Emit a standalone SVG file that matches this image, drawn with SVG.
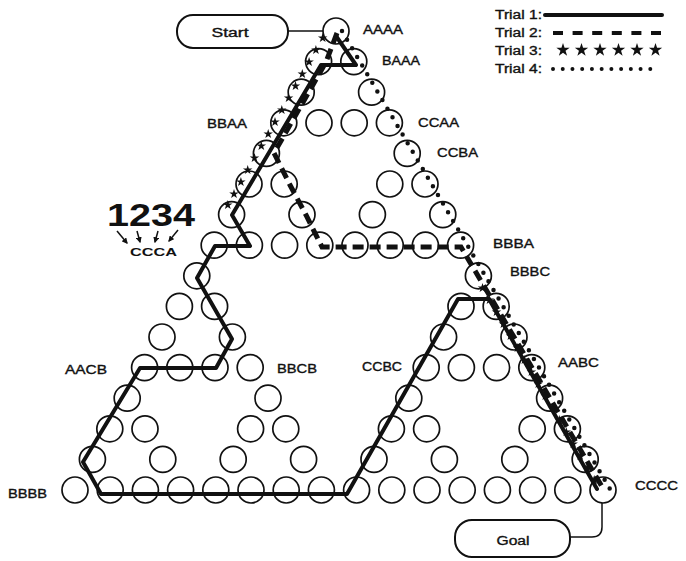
<svg xmlns="http://www.w3.org/2000/svg" width="686" height="561" viewBox="0 0 686 561">
<style>
.n{fill:none;stroke:#111;stroke-width:1.7}
.lbl{font-family:"Liberation Sans",Arial,sans-serif;font-size:12px;fill:#111;stroke:#111;stroke-width:0.35}
.big{font-family:"Liberation Sans",Arial,sans-serif;font-weight:bold;fill:#111}
.t1{fill:none;stroke:#111;stroke-width:4;stroke-linejoin:round;stroke-linecap:round}
.t2{fill:none;stroke:#111;stroke-width:5;stroke-dasharray:11 6}
.t4{fill:none;stroke:#111;stroke-width:4.5;stroke-dasharray:0 10;stroke-linecap:round}
.st{fill:#111}
.box{fill:#fff;stroke:#111;stroke-width:2}
.wire{fill:none;stroke:#111;stroke-width:1.5}
.arr{fill:none;stroke:#111;stroke-width:1.5;marker-end:url(#ah)}
</style>
<defs>
<path id="star" d="M0,-10 L2.25,-3.09 L9.51,-3.09 L3.63,1.18 L5.88,8.09 L0,3.82 L-5.88,8.09 L-3.63,1.18 L-9.51,-3.09 L-2.25,-3.09Z"/>
<marker id="ah" viewBox="0 0 10 10" refX="8" refY="5" markerWidth="4" markerHeight="4" orient="auto"><path d="M0,0 L10,5 L0,10z" fill="#111"/></marker>
</defs>

<g id="nodes">
<g id="AAAA"><circle class="n" cx="336" cy="31" r="13"/><text class="lbl" x="363" y="34" textLength="40" lengthAdjust="spacingAndGlyphs">AAAA</text></g>
<g id="n-1-0"><circle class="n" cx="318.6" cy="61.6" r="13"/></g>
<g id="BAAA"><circle class="n" cx="353.8" cy="61.6" r="13"/><text class="lbl" x="382" y="65" textLength="38" lengthAdjust="spacingAndGlyphs">BAAA</text></g>
<g id="n-2-0"><circle class="n" cx="301.2" cy="92.2" r="13"/></g>
<g id="n-2-2"><circle class="n" cx="371.6" cy="92.2" r="13"/></g>
<g id="BBAA"><circle class="n" cx="283.8" cy="122.8" r="13"/><text class="lbl" x="207" y="128" textLength="40" lengthAdjust="spacingAndGlyphs">BBAA</text></g>
<g id="n-3-1"><circle class="n" cx="319" cy="122.8" r="13"/></g>
<g id="n-3-2"><circle class="n" cx="354.2" cy="122.8" r="13"/></g>
<g id="CCAA"><circle class="n" cx="389.4" cy="122.8" r="13"/><text class="lbl" x="418" y="127" textLength="41" lengthAdjust="spacingAndGlyphs">CCAA</text></g>
<g id="n-4-0"><circle class="n" cx="266.4" cy="153.4" r="13"/></g>
<g id="CCBA"><circle class="n" cx="407.2" cy="153.4" r="13"/><text class="lbl" x="437" y="157" textLength="41" lengthAdjust="spacingAndGlyphs">CCBA</text></g>
<g id="n-5-0"><circle class="n" cx="249" cy="184" r="13"/></g>
<g id="n-5-1"><circle class="n" cx="284.2" cy="184" r="13"/></g>
<g id="n-5-4"><circle class="n" cx="389.8" cy="184" r="13"/></g>
<g id="n-5-5"><circle class="n" cx="425" cy="184" r="13"/></g>
<g id="n-6-0"><circle class="n" cx="231.6" cy="214.6" r="13"/></g>
<g id="n-6-2"><circle class="n" cx="302" cy="214.6" r="13"/></g>
<g id="n-6-4"><circle class="n" cx="372.4" cy="214.6" r="13"/></g>
<g id="n-6-6"><circle class="n" cx="442.8" cy="214.6" r="13"/></g>
<g id="CCCA"><circle class="n" cx="214.2" cy="245.2" r="13"/></g>
<g id="n-7-1"><circle class="n" cx="249.4" cy="245.2" r="13"/></g>
<g id="n-7-2"><circle class="n" cx="284.6" cy="245.2" r="13"/></g>
<g id="n-7-3"><circle class="n" cx="319.8" cy="245.2" r="13"/></g>
<g id="n-7-4"><circle class="n" cx="355" cy="245.2" r="13"/></g>
<g id="n-7-5"><circle class="n" cx="390.2" cy="245.2" r="13"/></g>
<g id="n-7-6"><circle class="n" cx="425.4" cy="245.2" r="13"/></g>
<g id="BBBA"><circle class="n" cx="460.6" cy="245.2" r="13"/><text class="lbl" x="493" y="248" textLength="41" lengthAdjust="spacingAndGlyphs">BBBA</text></g>
<g id="n-8-0"><circle class="n" cx="196.8" cy="275.8" r="13"/></g>
<g id="BBBC"><circle class="n" cx="478.4" cy="275.8" r="13"/><text class="lbl" x="510" y="276" textLength="40" lengthAdjust="spacingAndGlyphs">BBBC</text></g>
<g id="n-9-0"><circle class="n" cx="179.4" cy="306.4" r="13"/></g>
<g id="n-9-1"><circle class="n" cx="214.6" cy="306.4" r="13"/></g>
<g id="n-9-8"><circle class="n" cx="461" cy="306.4" r="13"/></g>
<g id="n-9-9"><circle class="n" cx="496.2" cy="306.4" r="13"/></g>
<g id="n-10-0"><circle class="n" cx="162" cy="337" r="13"/></g>
<g id="n-10-2"><circle class="n" cx="232.4" cy="337" r="13"/></g>
<g id="n-10-8"><circle class="n" cx="443.6" cy="337" r="13"/></g>
<g id="n-10-10"><circle class="n" cx="514" cy="337" r="13"/></g>
<g id="AACB"><circle class="n" cx="144.6" cy="367.6" r="13"/><text class="lbl" x="65" y="374" textLength="42" lengthAdjust="spacingAndGlyphs">AACB</text></g>
<g id="n-11-1"><circle class="n" cx="179.8" cy="367.6" r="13"/></g>
<g id="n-11-2"><circle class="n" cx="215" cy="367.6" r="13"/></g>
<g id="BBCB"><circle class="n" cx="250.2" cy="367.6" r="13"/><text class="lbl" x="277" y="373" textLength="40" lengthAdjust="spacingAndGlyphs">BBCB</text></g>
<g id="CCBC"><circle class="n" cx="426.2" cy="367.6" r="13"/><text class="lbl" x="362" y="371" textLength="40" lengthAdjust="spacingAndGlyphs">CCBC</text></g>
<g id="n-11-9"><circle class="n" cx="461.4" cy="367.6" r="13"/></g>
<g id="n-11-10"><circle class="n" cx="496.6" cy="367.6" r="13"/></g>
<g id="AABC"><circle class="n" cx="531.8" cy="367.6" r="13"/><text class="lbl" x="558" y="367" textLength="41" lengthAdjust="spacingAndGlyphs">AABC</text></g>
<g id="n-12-0"><circle class="n" cx="127.2" cy="398.2" r="13"/></g>
<g id="n-12-4"><circle class="n" cx="268" cy="398.2" r="13"/></g>
<g id="n-12-8"><circle class="n" cx="408.8" cy="398.2" r="13"/></g>
<g id="n-12-12"><circle class="n" cx="549.6" cy="398.2" r="13"/></g>
<g id="n-13-0"><circle class="n" cx="109.8" cy="428.8" r="13"/></g>
<g id="n-13-1"><circle class="n" cx="145" cy="428.8" r="13"/></g>
<g id="n-13-4"><circle class="n" cx="250.6" cy="428.8" r="13"/></g>
<g id="n-13-5"><circle class="n" cx="285.8" cy="428.8" r="13"/></g>
<g id="n-13-8"><circle class="n" cx="391.4" cy="428.8" r="13"/></g>
<g id="n-13-9"><circle class="n" cx="426.6" cy="428.8" r="13"/></g>
<g id="n-13-12"><circle class="n" cx="532.2" cy="428.8" r="13"/></g>
<g id="n-13-13"><circle class="n" cx="567.4" cy="428.8" r="13"/></g>
<g id="n-14-0"><circle class="n" cx="92.4" cy="459.4" r="13"/></g>
<g id="n-14-2"><circle class="n" cx="162.8" cy="459.4" r="13"/></g>
<g id="n-14-4"><circle class="n" cx="233.2" cy="459.4" r="13"/></g>
<g id="n-14-6"><circle class="n" cx="303.6" cy="459.4" r="13"/></g>
<g id="n-14-8"><circle class="n" cx="374" cy="459.4" r="13"/></g>
<g id="n-14-10"><circle class="n" cx="444.4" cy="459.4" r="13"/></g>
<g id="n-14-12"><circle class="n" cx="514.8" cy="459.4" r="13"/></g>
<g id="n-14-14"><circle class="n" cx="585.2" cy="459.4" r="13"/></g>
<g id="BBBB"><circle class="n" cx="75" cy="490" r="13"/><text class="lbl" x="8" y="498" textLength="39" lengthAdjust="spacingAndGlyphs">BBBB</text></g>
<g id="n-15-1"><circle class="n" cx="110.2" cy="490" r="13"/></g>
<g id="n-15-2"><circle class="n" cx="145.4" cy="490" r="13"/></g>
<g id="n-15-3"><circle class="n" cx="180.6" cy="490" r="13"/></g>
<g id="n-15-4"><circle class="n" cx="215.8" cy="490" r="13"/></g>
<g id="n-15-5"><circle class="n" cx="251" cy="490" r="13"/></g>
<g id="n-15-6"><circle class="n" cx="286.2" cy="490" r="13"/></g>
<g id="n-15-7"><circle class="n" cx="321.4" cy="490" r="13"/></g>
<g id="n-15-8"><circle class="n" cx="356.6" cy="490" r="13"/></g>
<g id="n-15-9"><circle class="n" cx="391.8" cy="490" r="13"/></g>
<g id="n-15-10"><circle class="n" cx="427" cy="490" r="13"/></g>
<g id="n-15-11"><circle class="n" cx="462.2" cy="490" r="13"/></g>
<g id="n-15-12"><circle class="n" cx="497.4" cy="490" r="13"/></g>
<g id="n-15-13"><circle class="n" cx="532.6" cy="490" r="13"/></g>
<g id="n-15-14"><circle class="n" cx="567.8" cy="490" r="13"/></g>
<g id="CCCC"><circle class="n" cx="603" cy="490" r="13"/><text class="lbl" x="635" y="490" textLength="43" lengthAdjust="spacingAndGlyphs">CCCC</text></g>

<g id="start"><rect class="box" x="177" y="15" width="111" height="33" rx="16"/><text class="lbl" x="230" y="37" font-size="14" text-anchor="middle" textLength="37" lengthAdjust="spacingAndGlyphs">Start</text></g>
<g id="goal"><rect class="box" x="455" y="520" width="115" height="37" rx="17"/><text class="lbl" x="513" y="545" font-size="14" text-anchor="middle" textLength="33" lengthAdjust="spacingAndGlyphs">Goal</text></g>
</g>

<g id="annotation">
<text class="big" x="107" y="226" font-size="31" textLength="88" lengthAdjust="spacingAndGlyphs">1234</text>
<text class="big" x="130" y="256" font-size="11" textLength="47" lengthAdjust="spacingAndGlyphs">CCCA</text>
<path class="arr" d="M117,231 L127,243"/>
<path class="arr" d="M137,231 L140,242"/>
<path class="arr" d="M158,231 L155,242"/>
<path class="arr" d="M178,230 L169,241"/>
</g>

<g id="connectors">
<path class="wire" d="M288,31 L323,31"/>
<path class="wire" d="M570,537 L592,537 Q602,537 602,527 L602,503"/>
<g id="trial1"><path class="t1" d="M336,36 L356,65 L321,65 L232,215 L250,246 L215,246 L197,278 L232,339 L216,368 L140,368 L83,462 L101,494 L347,494 L458,299 L489,299 L597,489"/></g>
<g id="trial2"><path class="t2" d="M337,33 L326,62 L274,153 L290,185 L306,215 L322,247 L461,247 L604,490"/></g>
<g id="trial4"><path class="t4" d="M342,31 L610,489"/></g>
<g id="trial3" class="st">
<use href="#star" transform="translate(322.7,38) scale(.5)"/>
<use href="#star" transform="translate(315.9,50) scale(.5)"/>
<use href="#star" transform="translate(309.1,62) scale(.5)"/>
<use href="#star" transform="translate(302.3,74) scale(.5)"/>
<use href="#star" transform="translate(295.5,86) scale(.5)"/>
<use href="#star" transform="translate(288.6,98) scale(.5)"/>
<use href="#star" transform="translate(281.8,110) scale(.5)"/>
<use href="#star" transform="translate(275,122) scale(.5)"/>
<use href="#star" transform="translate(268.2,134) scale(.5)"/>
<use href="#star" transform="translate(261.3,146) scale(.5)"/>
<use href="#star" transform="translate(254.5,158) scale(.5)"/>
<use href="#star" transform="translate(247.7,170) scale(.5)"/>
<use href="#star" transform="translate(240.9,182) scale(.5)"/>
<use href="#star" transform="translate(234,194) scale(.5)"/>
<use href="#star" transform="translate(227.8,205) scale(.5)"/>
<use href="#star" transform="translate(482.5,288) scale(.5)"/>
<use href="#star" transform="translate(489.5,300) scale(.5)"/>
<use href="#star" transform="translate(496.5,312) scale(.5)"/>
<use href="#star" transform="translate(503.4,324) scale(.5)"/>
<use href="#star" transform="translate(510.4,336) scale(.5)"/>
<use href="#star" transform="translate(517.4,348) scale(.5)"/>
<use href="#star" transform="translate(524.4,360) scale(.5)"/>
<use href="#star" transform="translate(531.4,372) scale(.5)"/>
<use href="#star" transform="translate(538.3,384) scale(.5)"/>
<use href="#star" transform="translate(545.3,396) scale(.5)"/>
<use href="#star" transform="translate(552.3,408) scale(.5)"/>
<use href="#star" transform="translate(559.3,420) scale(.5)"/>
<use href="#star" transform="translate(566.3,432) scale(.5)"/>
<use href="#star" transform="translate(573.2,444) scale(.5)"/>
<use href="#star" transform="translate(580.2,456) scale(.5)"/>
<use href="#star" transform="translate(587.2,468) scale(.5)"/>
<use href="#star" transform="translate(594.2,480) scale(.5)"/>
</g>
</g>

<g id="legend">
<text class="lbl" x="495" y="19" font-size="11.5" textLength="47" lengthAdjust="spacingAndGlyphs">Trial 1:</text>
<text class="lbl" x="495" y="37" font-size="11.5" textLength="47" lengthAdjust="spacingAndGlyphs">Trial 2:</text>
<text class="lbl" x="495" y="55" font-size="11.5" textLength="47" lengthAdjust="spacingAndGlyphs">Trial 3:</text>
<text class="lbl" x="495" y="73" font-size="11.5" textLength="47" lengthAdjust="spacingAndGlyphs">Trial 4:</text>
<path class="t1" d="M545,15 L662,15" stroke-linecap="butt"/>
<path class="t2" d="M553,33 L661,33" style="stroke-width:4;stroke-dasharray:10 9.6"/>
<g class="st">
<use href="#star" transform="translate(563,50) scale(.7)"/>
<use href="#star" transform="translate(581.5,50) scale(.7)"/>
<use href="#star" transform="translate(600,50) scale(.7)"/>
<use href="#star" transform="translate(618.5,50) scale(.7)"/>
<use href="#star" transform="translate(637,50) scale(.7)"/>
<use href="#star" transform="translate(655.5,50) scale(.7)"/>
</g>
<path class="t4" d="M553,69 L660,69" style="stroke-width:4;stroke-dasharray:0 9.73"/>
</g>
</svg>
